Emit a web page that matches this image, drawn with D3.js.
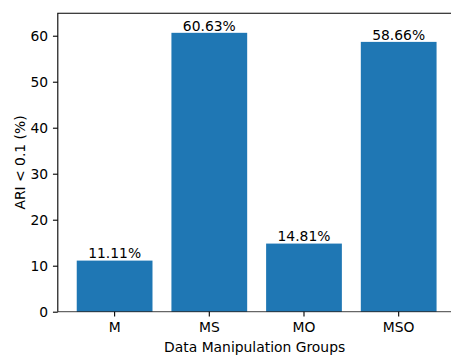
<!DOCTYPE html>
<html>
<head>
<meta charset="utf-8">
<script src="https://cdn.jsdelivr.net/npm/d3@7"></script>
<style>
  html, body { margin: 0; padding: 0; background: #fff; }
  svg { display: block; }
  text { font-family: "DejaVu Sans", sans-serif; fill: #000; }
</style>
</head>
<body>
<svg id="chart" width="451" height="356"></svg>
<script>
// Share of runs with ARI < 0.1 per data manipulation group
const categories = ["M", "MS", "MO", "MSO"];
const values = [11.11, 60.63, 14.81, 58.66];
const yTicks = [0, 10, 20, 30, 40, 50, 60];
const xLabel = "Data Manipulation Groups";
const yLabel = "ARI < 0.1 (%)";

const W = 451, H = 356;
const fontSize = 13.89;
const frame = { left: 57.8, right: 455.5, top: 13.3, bottom: 311.7 };
const tickLen = 4.86, tickPad = 4.86;

const svg = d3.select("#chart");

// x: categorical slots, limits at -0.6 .. n-0.4 in slot units
const slot = (frame.right - frame.left) / (categories.length + 0.2);
const x = d3.scaleBand()
  .domain(categories)
  .range([frame.left + 0.1 * slot, frame.right - 0.1 * slot])
  .paddingInner(0.2)
  .paddingOuter(0.1);

const yMax = d3.max(values) * 1.07;
const y = d3.scaleLinear().domain([0, yMax]).range([frame.bottom, frame.top]);

// bars
svg.append("g")
  .selectAll("rect")
  .data(values)
  .join("rect")
  .attr("x", (d, i) => x(categories[i]))
  .attr("width", x.bandwidth())
  .attr("y", d => y(d))
  .attr("height", d => y(0) - y(d))
  .attr("fill", "#1f77b4");

// value labels
svg.append("g")
  .selectAll("text")
  .data(values)
  .join("text")
  .attr("x", (d, i) => x(categories[i]) + x.bandwidth() / 2)
  .attr("y", d => y(d) - 2.2)
  .attr("text-anchor", "middle")
  .attr("font-size", fontSize)
  .text(d => d.toFixed(2) + "%");

// baseline at zero
svg.append("line")
  .attr("x1", frame.left).attr("x2", W)
  .attr("y1", y(0)).attr("y2", y(0))
  .attr("stroke", "#000").attr("stroke-opacity", 0.6)
  .attr("stroke-width", 1.2);

// y axis
const yAxis = d3.axisLeft(y)
  .tickValues(yTicks)
  .tickSize(tickLen)
  .tickPadding(tickPad)
  .tickFormat(d3.format("d"));
const gy = svg.append("g")
  .attr("transform", `translate(${frame.left},0)`)
  .call(yAxis);
gy.select(".domain").remove();
gy.selectAll(".tick line").attr("stroke", "#000").attr("stroke-width", 1.1);
gy.selectAll(".tick text")
  .attr("font-size", fontSize)
  .attr("font-family", "DejaVu Sans, sans-serif")
  .attr("fill", "#000")
  .attr("dy", "0.36em");

// x axis
const xAxis = d3.axisBottom(x)
  .tickSize(tickLen)
  .tickPadding(tickPad);
const gx = svg.append("g")
  .attr("transform", `translate(0,${frame.bottom})`)
  .call(xAxis);
gx.select(".domain").remove();
gx.selectAll(".tick line").attr("stroke", "#000").attr("stroke-width", 1.1);
gx.selectAll(".tick text")
  .attr("font-size", fontSize)
  .attr("font-family", "DejaVu Sans, sans-serif")
  .attr("fill", "#000")
  .attr("dy", "0.76em");

// frame: left, top and right spines
svg.append("path")
  .attr("d", `M${frame.left},${frame.bottom}V${frame.top}H${frame.right}V${frame.bottom}`)
  .attr("fill", "none")
  .attr("stroke", "#000")
  .attr("stroke-width", 1.1);

// axis titles
svg.append("text")
  .attr("x", (frame.left + frame.right) / 2 - 2)
  .attr("y", 351.6)
  .attr("text-anchor", "middle")
  .attr("font-size", fontSize)
  .text(xLabel);

svg.append("text")
  .attr("transform", `translate(24.5,${(frame.top + frame.bottom) / 2}) rotate(-90)`)
  .attr("text-anchor", "middle")
  .attr("font-size", fontSize)
  .text(yLabel);
</script>
</body>
</html>
